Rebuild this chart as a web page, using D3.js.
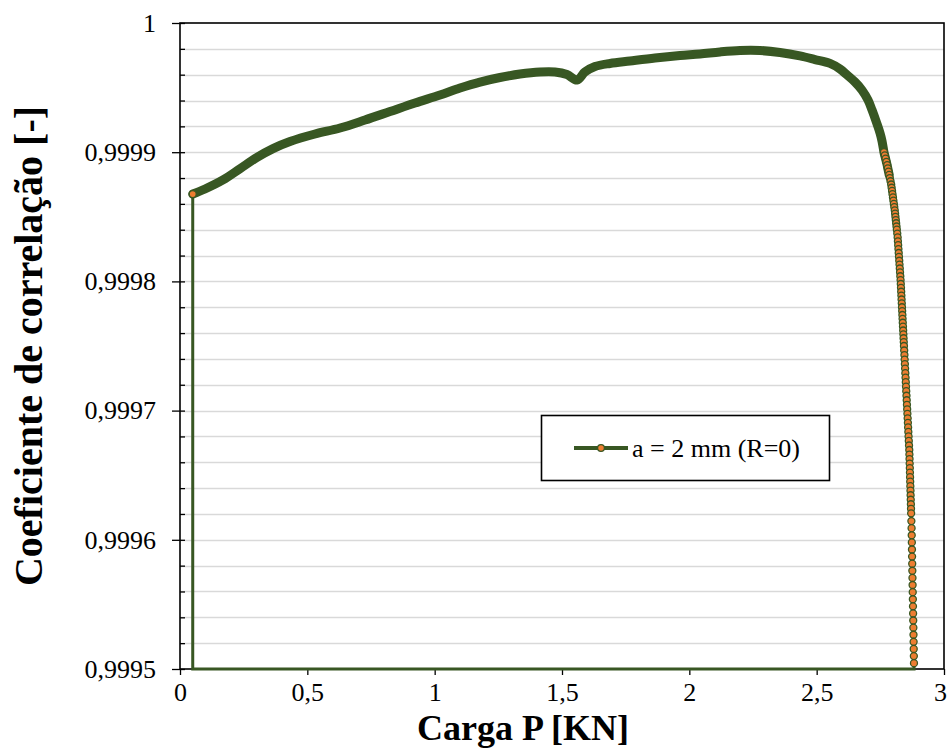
<!DOCTYPE html>
<html><head><meta charset="utf-8">
<script src="https://cdn.jsdelivr.net/npm/d3@7"></script>
<style>body{margin:0;background:#fff} text{font-family:"Liberation Serif","Times New Roman",serif;fill:#000}</style>
</head><body><svg id="c" width="949" height="749"></svg>
<script>
// ---- data ----
const curveLoad = [0.05,0.0982,0.1688,0.2356,0.3024,0.3652,0.4319,0.5301,0.6283,0.7264,0.8246,0.9228,1.0209,1.0995,1.1780,1.2565,1.3351,1.4136,1.4725,1.5196,1.5589,1.5903,1.6296,1.6885,1.7670,1.8652,1.9633,2.0419,2.1204,2.1989,2.2775,2.3560,2.4345,2.4934,2.5523,2.5916,2.6191,2.6505,2.6780,2.7016,2.7173,2.7357,2.7487,2.7565];
const curveCorr = [0.9998676,0.9998715,0.9998785,0.9998872,0.9998960,0.9999028,0.9999083,0.9999141,0.9999187,0.9999249,0.9999315,0.9999381,0.9999443,0.9999497,0.9999543,0.9999578,0.9999605,0.9999621,0.9999621,0.9999601,0.9999559,0.9999621,0.9999663,0.9999687,0.9999706,0.9999729,0.9999748,0.9999760,0.9999776,0.9999787,0.9999787,0.9999772,0.9999745,0.9999717,0.9999687,0.9999644,0.9999598,0.9999543,0.9999481,0.9999404,0.9999327,0.9999226,0.9999149,0.9999087];
const dropLoad = [2.7643,2.7674,2.7706,2.7737,2.7768,2.7794,2.7821,2.7847,2.7873,2.7900,2.7926,2.7943,2.7961,2.7978,2.7996,2.8013,2.8031,2.8048,2.8066,2.8080,2.8093,2.8107,2.8121,2.8135,2.8148,
2.8165,2.8180,2.8190,2.8201,2.8211,2.8222,2.8232,2.8243,2.8253,2.8264,2.8274,2.8285,2.8295,2.8303,2.8311,2.8319,2.8327,2.8334,2.8342,2.8350,2.8358,2.8366,2.8373,2.8381,2.8389,2.8397,2.8405,2.8412,2.8420,2.8428,
2.8437,2.8446,2.8455,2.8464,2.8473,2.8482,2.8491,2.8500,2.8509,2.8518,2.8527,2.8536,2.8545,2.8554,2.8563,2.8573,2.8582,2.8591,2.8600,2.8609,2.8618,2.8627,2.8637,2.8642,2.8647,2.8652,2.8658,2.8663,2.8668,2.8673,2.8679,2.8684,2.8689,2.8694,2.8700,2.8705,2.8710,
2.8719,2.8727,2.8732,2.8737,2.8742,2.8747,2.8752,2.8757,2.8762,2.8767,2.8772,2.8777,2.8782,2.8787,2.8792,2.8797,2.8802,2.8807,2.8811,2.8816,2.8821];
const dropCorr = [0.9999000,0.9998975,0.9998950,0.9998925,0.9998900,0.9998875,0.9998850,0.9998825,0.9998800,0.9998775,0.9998750,0.9998725,0.9998700,0.9998675,0.9998650,0.9998625,0.9998600,0.9998575,0.9998550,0.9998525,0.9998500,0.9998475,0.9998450,0.9998425,0.9998400,
0.9998370,0.9998340,0.9998310,0.9998280,0.9998250,0.9998220,0.9998190,0.9998160,0.9998130,0.9998100,0.9998070,0.9998040,0.9998010,0.9997980,0.9997950,0.9997920,0.9997890,0.9997860,0.9997830,0.9997800,0.9997770,0.9997740,0.9997710,0.9997680,0.9997650,0.9997620,0.9997590,0.9997560,0.9997530,0.9997500,
0.9997465,0.9997430,0.9997395,0.9997360,0.9997325,0.9997290,0.9997255,0.9997220,0.9997185,0.9997150,0.9997115,0.9997080,0.9997045,0.9997010,0.9996975,0.9996940,0.9996905,0.9996870,0.9996835,0.9996800,0.9996765,0.9996730,0.9996695,0.9996660,0.9996625,0.9996590,0.9996555,0.9996520,0.9996485,0.9996450,0.9996415,0.9996380,0.9996345,0.9996310,0.9996275,0.9996240,0.9996205,
0.9996145,0.9996090,0.9996035,0.9995980,0.9995925,0.9995870,0.9995815,0.9995760,0.9995705,0.9995650,0.9995595,0.9995540,0.9995485,0.9995430,0.9995375,0.9995320,0.9995265,0.9995210,0.9995155,0.9995100,0.9995045];
const returnLoad = [2.8825,0.05,0.05];
const returnCorr = [0.9995,0.9995,0.9998676];
const xTicks = [0,0.5,1,1.5,2,2.5,3];
const xTickLabels = ["0","0,5","1","1,5","2","2,5","3"];
const yTicks = [0.9995,0.9996,0.9997,0.9998,0.9999,1];
const yTickLabels = ["0,9995","0,9996","0,9997","0,9998","0,9999","1"];
const seriesName = "a = 2 mm (R=0)";
const xTitle = "Carga P [KN]";
const yTitle = "Coeficiente de correlação [-]";

// ---- drawing ----
const GREEN = "#385723", ORANGE = "#ED7D31";
const FONT = '"Liberation Serif","Times New Roman",serif';
const svg = d3.select("#c");
const L = 180, R = 944, T = 23, B = 669;
const x = d3.scaleLinear().domain([0,3]).range([L,R]);
const y = d3.scaleLinear().domain([0.9995,1]).range([B,T]);
const minor = y.ticks(25);

// gridlines
svg.append("g").selectAll("line").data(minor.filter(d => d > 0.99951 && d < 0.99999)).join("line")
  .attr("x1", L).attr("x2", R).attr("y1", d => Math.round(y(d))+0.5).attr("y2", d => Math.round(y(d))+0.5)
  .attr("stroke", "#d9d9d9").attr("stroke-width", 1.3);

// minor ticks (inside)
const gMinor = svg.append("g").attr("transform", `translate(${L},0)`)
  .call(d3.axisRight(y).tickValues(minor).tickSize(5).tickFormat(""));
gMinor.select(".domain").remove();
gMinor.selectAll("line").attr("stroke", "#000").attr("stroke-width", 1.3);

// y axis major ticks
const gy = svg.append("g").attr("transform", `translate(${L},0)`)
  .call(d3.axisLeft(y).tickValues(yTicks).tickSize(8).tickPadding(16).tickFormat((d,i) => yTickLabels[i]));
gy.select(".domain").remove();
gy.attr("font-family", null);
gy.selectAll("line").attr("stroke", "#000").attr("stroke-width", 1.3);
gy.selectAll("text").style("font-family", FONT).attr("font-size", 26).attr("fill", "#000");

// x axis
const gx = svg.append("g").attr("transform", `translate(0,${B})`)
  .call(d3.axisBottom(x).tickValues(xTicks).tickSize(6).tickPadding(0).tickFormat((d,i) => xTickLabels[i]));
gx.select(".domain").remove();
gx.attr("font-family", null);
gx.selectAll("line").attr("stroke", "#000").attr("stroke-width", 1.3);
gx.selectAll("text").style("font-family", FONT).attr("font-size", 26).attr("fill", "#000")
  .attr("dy", null).attr("y", 32).attr("dx", d => d === 3 ? -4 : 0);

// plot border
svg.append("rect").attr("x", L).attr("y", T).attr("width", R-L).attr("height", B-T)
  .attr("fill", "none").attr("stroke", "#000").attr("stroke-width", 1.6);

// series
const curvePts = d3.zip(curveLoad, curveCorr);
const dropPts = d3.zip(dropLoad, dropCorr);
const returnPts = d3.zip(returnLoad, returnCorr);
const allPts = curvePts.concat(dropPts, returnPts);
const lineLin = d3.line().x(d => x(d[0])).y(d => y(d[1]));

svg.append("path").attr("d", lineLin(allPts)).attr("fill", "none").attr("stroke", GREEN).attr("stroke-width", 3);
// dense overlapping markers read as a solid band
svg.append("path").attr("d", d3.line().x(d => x(d[0])).y(d => y(d[1])).curve(d3.curveCatmullRom)(curvePts.concat(dropPts.slice(0, 8))))
  .attr("fill", "none").attr("stroke", GREEN).attr("stroke-width", 9)
  .attr("stroke-linejoin", "round").attr("stroke-linecap", "round");

const markerPts = dropPts.concat(returnPts.filter(d => d[1] > 0.9995));
svg.append("g").selectAll("circle").data(markerPts).join("circle")
  .attr("cx", d => x(d[0])).attr("cy", d => y(d[1])).attr("r", 3.5)
  .attr("fill", ORANGE).attr("stroke", GREEN).attr("stroke-width", 1.3);

// legend
const lg = svg.append("g");
lg.append("rect").attr("x", 541.5).attr("y", 415.5).attr("width", 288).attr("height", 65)
  .attr("fill", "#fff").attr("stroke", "#000").attr("stroke-width", 1.6);
lg.append("line").attr("x1", 574).attr("x2", 628).attr("y1", 448).attr("y2", 448)
  .attr("stroke", GREEN).attr("stroke-width", 4);
lg.append("circle").attr("cx", 601).attr("cy", 448).attr("r", 3.4)
  .attr("fill", ORANGE).attr("stroke", GREEN).attr("stroke-width", 1.3);
lg.append("text").attr("x", 632).attr("y", 457).attr("font-size", 26).text(seriesName);

// titles
svg.append("text").attr("x", 523).attr("y", 740).attr("text-anchor", "middle")
  .attr("font-size", 36).attr("font-weight", "bold").text(xTitle);
svg.append("text").attr("transform", "translate(42,346) rotate(-90)").attr("text-anchor", "middle")
  .attr("font-size", 40).attr("font-weight", "bold").text(yTitle);
</script></body></html>
